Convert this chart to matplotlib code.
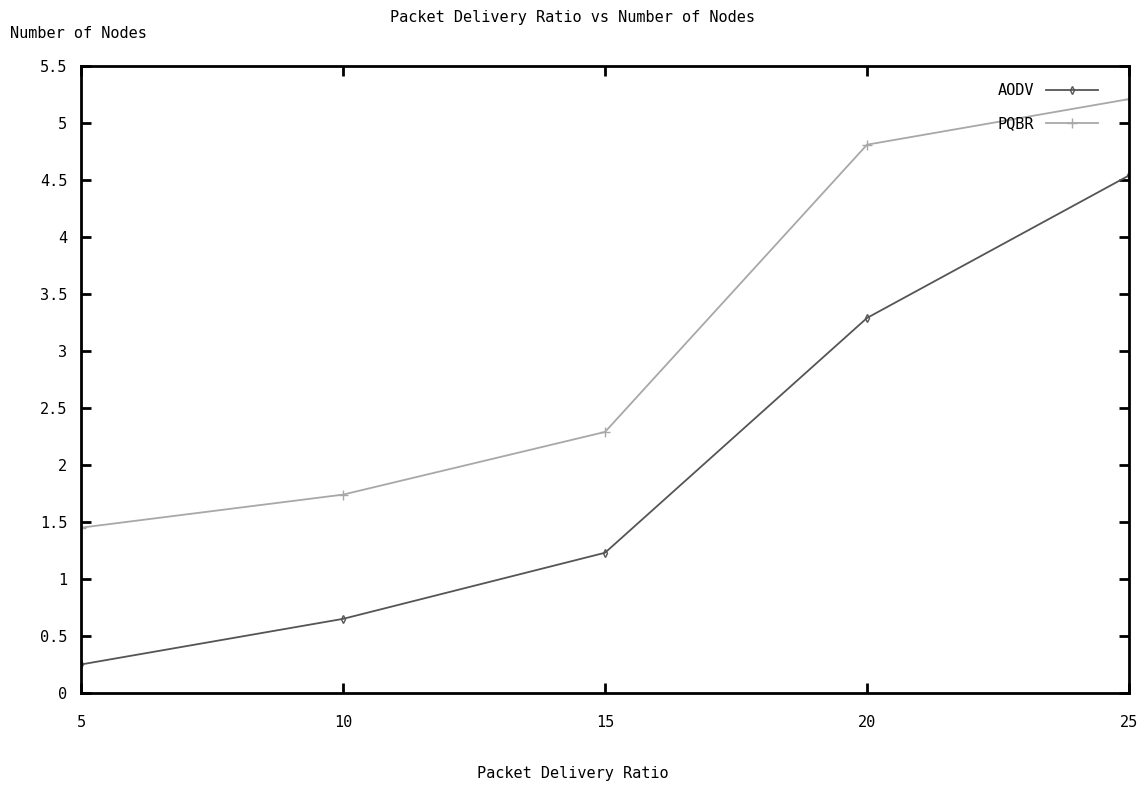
import matplotlib
matplotlib.use("Agg")
import matplotlib.pyplot as plt

nodes = [5, 10, 15, 20, 25]
aodv = [0.25, 0.65, 1.23, 3.29, 4.54]
pqbr = [1.45, 1.74, 2.29, 4.81, 5.21]
yticks = [0, 0.5, 1, 1.5, 2, 2.5, 3, 3.5, 4, 4.5, 5, 5.5]
ytick_labels = ["0", "0.5", "1", "1.5", "2", "2.5", "3", "3.5", "4", "4.5", "5", "5.5"]

plt.rcParams["font.family"] = ["DejaVu Sans Mono"]

fig = plt.figure(figsize=(11.46, 7.87), dpi=100)
ax = fig.add_axes([0.0707, 0.1195, 0.9145, 0.7966])

ax.plot(nodes, aodv, color="#555555", lw=1.3, marker="d", ms=4,
        mfc="none", mec="#555555", label="AODV")
ax.plot(nodes, pqbr, color="#a8a8a8", lw=1.3, marker="+", ms=7,
        mec="#a8a8a8", label="PQBR")

ax.set_xlim(5, 25)
ax.set_ylim(0, 5.5)
ax.set_xticks(nodes)
ax.set_yticks(yticks)
ax.set_yticklabels(ytick_labels)
ax.tick_params(direction="in", length=7, width=2, top=True, right=True,
               labelsize=11)
ax.tick_params(axis="x", pad=16)
ax.tick_params(axis="y", pad=10)
for s in ax.spines.values():
    s.set_linewidth(2)

fig.text(0.5, 0.978, "Packet Delivery Ratio vs Number of Nodes", ha="center",
         va="center", fontsize=11)
fig.text(0.009, 0.958, "Number of Nodes", ha="left", va="center", fontsize=11)
fig.text(0.5, 0.017, "Packet Delivery Ratio", ha="center", va="center",
         fontsize=11)

leg = ax.legend(loc="upper right", bbox_to_anchor=(0.981, 0.99),
                frameon=False, markerfirst=False, fontsize=11,
                handlelength=3.4, borderaxespad=0.3, labelspacing=1.2)
for t in leg.get_texts():
    t.set_ha("right")

plt.savefig("out.png", dpi=100)
